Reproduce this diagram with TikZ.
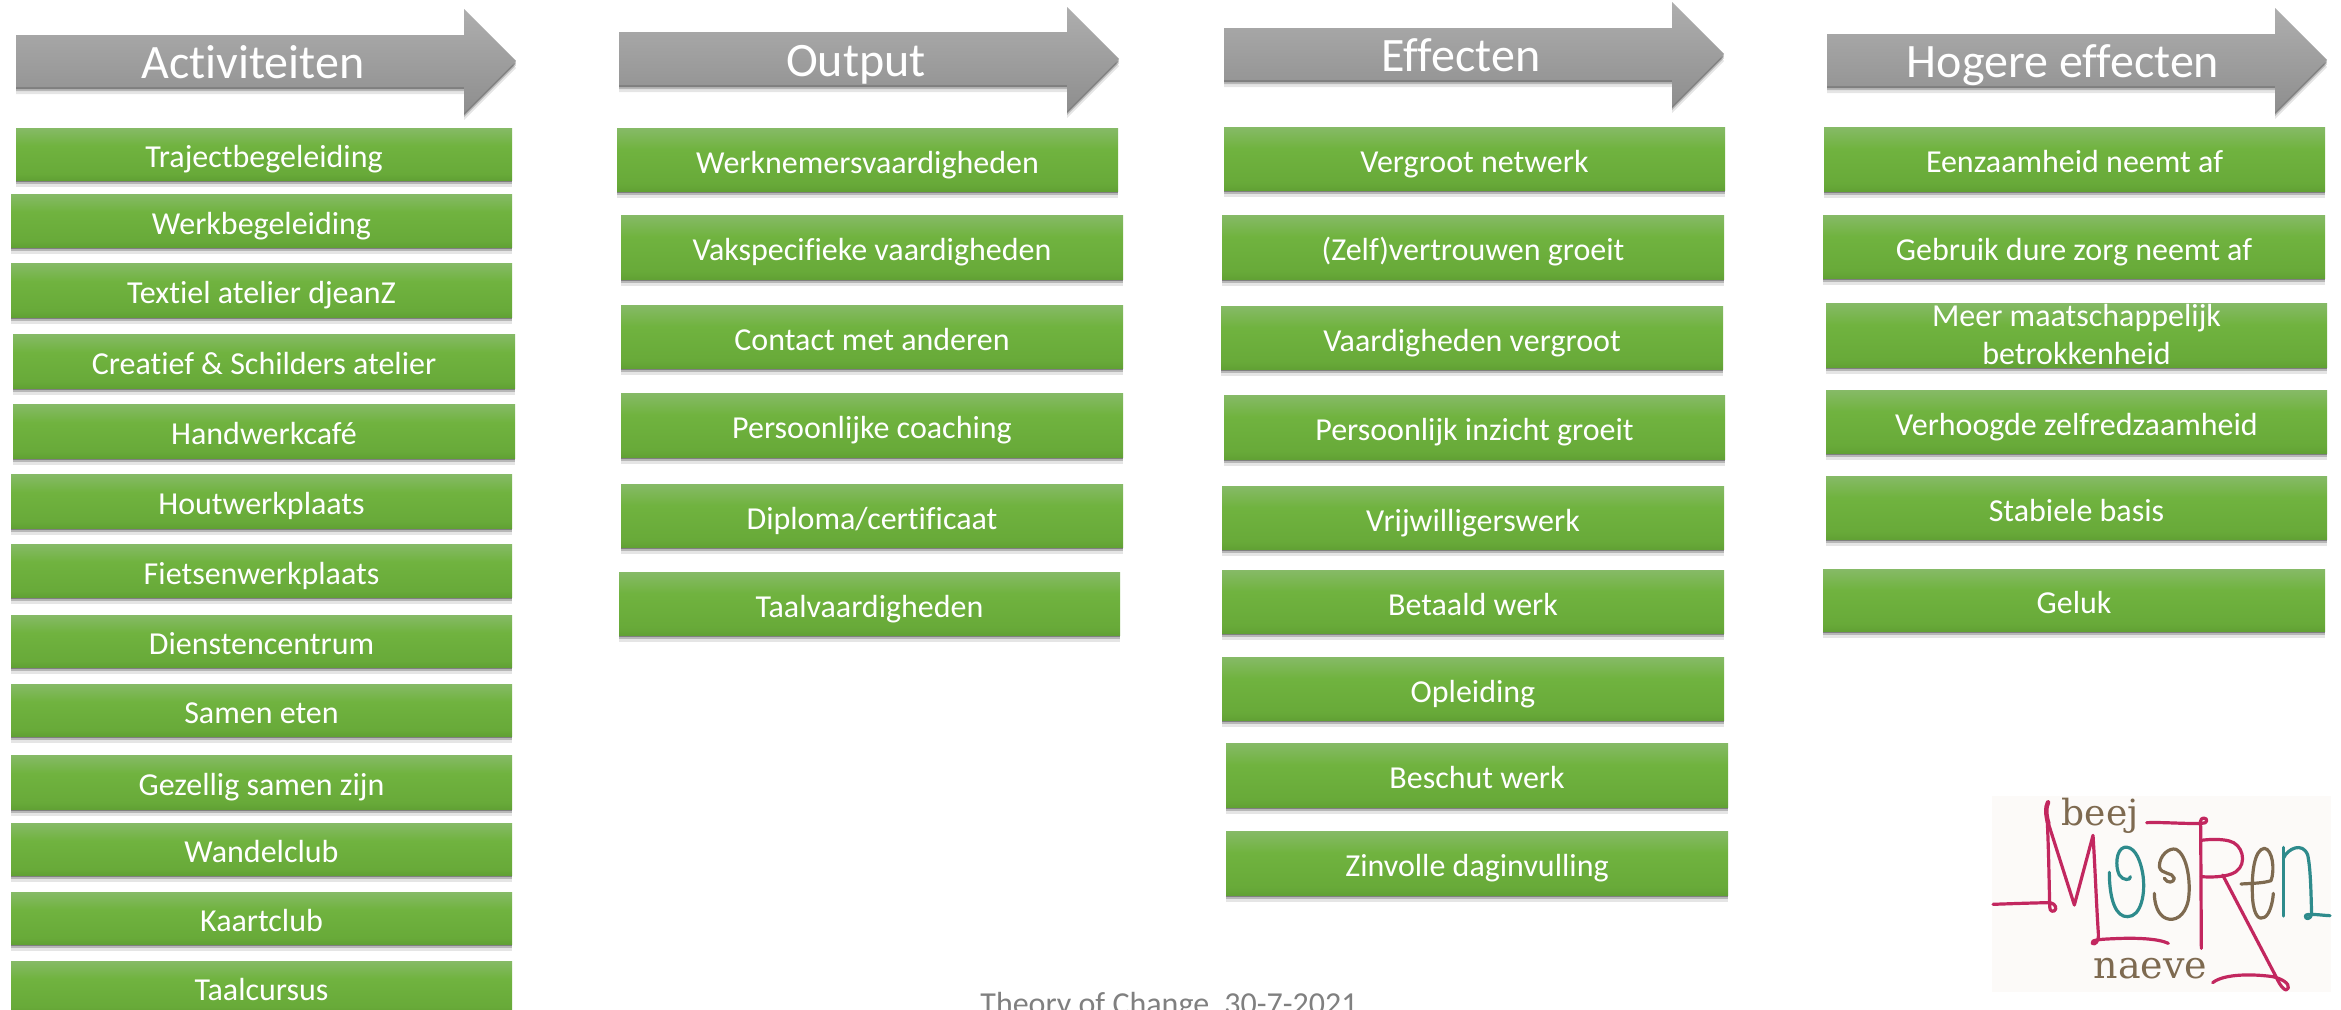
\documentclass[tikz,border=0pt]{standalone}
\usepackage{fontspec}
\usepackage{graphicx}
\setmainfont[Ligatures=CommonOff]{Carlito}
\newfontfamily\logofont{DejaVu Serif}
\usetikzlibrary{shadows}
\definecolor{gtop}{HTML}{86BA67}
\definecolor{gmid}{HTML}{70B33F}
\definecolor{gdk}{HTML}{68AA39}
\definecolor{gbot}{HTML}{61A134}
\definecolor{atop}{HTML}{AEAEAE}
\definecolor{abot}{HTML}{8E8E8E}
\definecolor{logobg}{HTML}{FCFAF8}
\definecolor{logopink}{HTML}{C2275F}
\definecolor{logoteal}{HTML}{2E8B8C}
\definecolor{logobrown}{HTML}{7E6A50}
\pgfdeclareverticalshading{greengrad}{100bp}{color(0bp)=(gbot); color(25bp)=(gbot); color(31bp)=(gdk); color(58bp)=(gmid); color(75bp)=(gtop); color(100bp)=(gtop)}
\pgfdeclareverticalshading{greygrad}{100bp}{color(0bp)=(abot); color(25bp)=(abot); color(75bp)=(atop); color(100bp)=(atop)}
\newcommand{\gbx}[6]{%
  \pgfmathsetmacro\bw{#4-#2}\pgfmathsetmacro\bh{#5-#3}%
  \node[greenbox,minimum width=\bw pt,minimum height=\bh pt] (#1) at ({(#2+#4)/2},{(#3+#5)/2}) {#6};}
\newcommand{\garrow}[8]{%
  \path[arrowbody] (#2,#5) -- (#3,#5) -- (#3,#7) -- (#4,{(#7+#8)/2}) -- (#3,#8) -- (#3,#6) -- (#2,#6) -- cycle;}
\tikzset{
  softshadow/.style={
    drop shadow={shadow xshift=0pt,shadow yshift=-2pt,opacity=.3,fill=black},
    drop shadow={shadow xshift=0pt,shadow yshift=-4pt,opacity=.2,fill=black},
    drop shadow={shadow xshift=0pt,shadow yshift=-7pt,opacity=.1,fill=black}},
  greenbox/.style={rectangle,inner sep=0pt,outer sep=0pt,shade,shading=greengrad,softshadow,
    text=white,font=\fontsize{32}{38}\selectfont,align=center,text height=27pt,text depth=0pt},
  arrowbody/.style={shade,shading=greygrad,softshadow},
  arrowlabel/.style={inner sep=0pt,text=white,font=\fontsize{48}{50}\selectfont,anchor=base},
  footnote/.style={inner sep=0pt,text=black!50,font=\fontsize{32}{34}\selectfont,anchor=base},
  logoline/.style={line width=3.2pt,line cap=round,line join=round},
  logotext/.style={inner sep=0pt,text=logobrown,anchor=base}
}
\begin{document}
\begin{tikzpicture}[x=1pt,y=-1pt]
\useasboundingbox (0,0) rectangle (2341,1009);
\clip (0,0) rectangle (2341,1009);
\fill[white] (0,0) rectangle (2341,1009);
% headers
\garrow{a}{16}{464}{516}{35}{87}{9}{113}
\node[arrowlabel] (hA) at (253,78) {Activiteiten};
\garrow{b}{619}{1067}{1119}{32}{85}{7}{111}
\node[arrowlabel] (hB) at (856,76) {Output};
\garrow{c}{1224}{1672}{1724}{28}{80}{2}{106}
\node[arrowlabel] (hC) at (1461,71) {Effecten};
\garrow{d}{1827}{2275}{2327}{34}{86}{8}{112}
\node[arrowlabel] (hD) at (2063,77) {Hogere effecten};
% column 1
\gbx{a1}{16}{128}{512}{180}{Trajectbegeleiding}
\gbx{a2}{11}{194}{512}{247}{Werkbegeleiding}
\gbx{a3}{11}{263}{512}{317}{Textiel atelier djeanZ}
\gbx{a4}{13}{334}{515}{388}{Creatief \& Schilders atelier}
\gbx{a5}{13}{404}{515}{458}{Handwerkcafé}
\gbx{a6}{11}{474}{512}{528}{Houtwerkplaats}
\gbx{a7}{11}{544}{512}{597}{Fietsenwerkplaats}
\gbx{a8}{11}{615}{512}{667}{Dienstencentrum}
\gbx{a9}{11}{684}{512}{736}{Samen eten}
\gbx{a10}{11}{755}{512}{809}{Gezellig samen zijn}
\gbx{a11}{11}{823}{512}{875}{Wandelclub}
\gbx{a12}{11}{892}{512}{944}{Kaartclub}
\gbx{a13}{11}{961}{512}{1013}{Taalcursus}
% column 2
\gbx{b1}{617}{128}{1118}{191}{Werknemersvaardigheden}
\gbx{b2}{621}{215}{1123}{279}{Vakspecifieke vaardigheden}
\gbx{b3}{621}{305}{1123}{368}{Contact met anderen}
\gbx{b4}{621}{393}{1123}{457}{Persoonlijke coaching}
\gbx{b5}{621}{484}{1123}{547}{Diploma/certificaat}
\gbx{b6}{619}{572}{1120}{635}{Taalvaardigheden}
% column 3
\gbx{c1}{1224}{127}{1725}{190}{Vergroot netwerk}
\gbx{c2}{1222}{215}{1724}{279}{(Zelf)vertrouwen groeit}
\gbx{c3}{1221}{306}{1723}{369}{Vaardigheden vergroot}
\gbx{c4}{1224}{395}{1725}{459}{Persoonlijk inzicht groeit}
\gbx{c5}{1222}{486}{1724}{549}{Vrijwilligerswerk}
\gbx{c6}{1222}{570}{1724}{633}{Betaald werk}
\gbx{c7}{1222}{657}{1724}{720}{Opleiding}
\gbx{c8}{1226}{743}{1728}{807}{Beschut werk}
\gbx{c9}{1226}{831}{1728}{895}{Zinvolle daginvulling}
% column 4
\gbx{d1}{1824}{127}{2325}{191}{Eenzaamheid neemt af}
\gbx{d2}{1823}{215}{2325}{278}{Gebruik dure zorg neemt af}
\pgfmathsetmacro\bw{2327-1826}\pgfmathsetmacro\bh{367-303}
\node[greenbox,minimum width=\bw pt,minimum height=\bh pt,text height={},text depth={}] (d3) at (2076.5,335) {Meer maatschappelijk\\betrokkenheid};
\gbx{d4}{1826}{390}{2327}{453}{Verhoogde zelfredzaamheid}
\gbx{d5}{1826}{476}{2327}{539}{Stabiele basis}
\gbx{d6}{1823}{569}{2325}{631}{Geluk}
% footer
\node[footnote] (foot) at (1169,1014) {Theory of Change, 30-7-2021};
% logo
\fill[logobg] (1992,796) rectangle (2331,992);
\begin{scope}[shift={(1941,760)},x=.33333pt,y=-.33333pt]
\node[logotext,font=\logofont\fontsize{36}{40}\selectfont] (beej) at (478,195) {beej};
\node[logotext,font=\logofont\fontsize{38}{40}\selectfont] (naeve) at (628,655) {naeve};
\begin{scope}[logoline,draw=logopink]
\draw (156,433) .. controls (210,431) and (270,429) .. (318,428) .. controls (335,426) and (346,436) .. (344,447) .. controls (340,458) and (325,456) .. (326,440) .. controls (324,340) and (322,240) .. (318,170);
\draw[line width=4.5pt] (321,127) .. controls (314,140) and (314,165) .. (322,190);
\draw (322,190) -- (400,435) -- (456,226) .. controls (462,320) and (466,430) .. (472,520) .. controls (474,545) and (462,556) .. (454,550) .. controls (450,540) and (470,538) .. (520,536) .. controls (580,533) and (650,535) .. (682,550);
\draw (617,188) .. controls (670,186) and (730,192) .. (782,190) .. controls (800,192) and (802,174) .. (788,174) .. controls (776,174) and (778,190) .. (779,200) -- (781,565);
\draw (781,241) .. controls (800,238) and (840,236) .. (865,243) .. controls (905,252) and (920,310) .. (885,335) .. controls (860,352) and (810,352) .. (781,350);
\draw (845,345) -- (1005,650) .. controls (1018,680) and (1036,700) .. (1042,684) .. controls (1046,670) and (1020,655) .. (995,650) .. controls (940,642) and (850,640) .. (815,668);
\end{scope}
\begin{scope}[logoline,draw=logoteal]
\draw (505,337) .. controls (505,420) and (525,472) .. (560,470) .. controls (600,470) and (615,400) .. (605,340) .. controls (595,285) and (575,258) .. (550,262) .. controls (525,268) and (522,320) .. (535,345) .. controls (545,362) and (570,362) .. (568,350);
\draw (1027,262) -- (1027,468);
\draw (1027,295) .. controls (1040,265) and (1085,245) .. (1100,285) .. controls (1110,330) and (1110,420) .. (1112,462) .. controls (1110,478) and (1092,480) .. (1093,468) .. controls (1095,458) and (1140,466) .. (1167,467);
\end{scope}
\begin{scope}[logoline,draw=logobrown]
\draw (670,355) .. controls (680,372) and (698,368) .. (700,355) .. controls (695,335) and (660,345) .. (655,320) .. controls (655,285) and (685,262) .. (705,268) .. controls (740,285) and (750,370) .. (742,420) .. controls (732,470) and (700,485) .. (675,475) .. controls (650,465) and (640,430) .. (640,400);
\draw (900,372) .. controls (930,370) and (965,370) .. (990,362) .. controls (1002,330) and (995,268) .. (970,265) .. controls (940,268) and (930,340) .. (935,420) .. controls (940,470) and (955,480) .. (970,472) .. controls (985,465) and (995,430) .. (997,400);
\end{scope}
\end{scope}
\end{tikzpicture}
\end{document}
